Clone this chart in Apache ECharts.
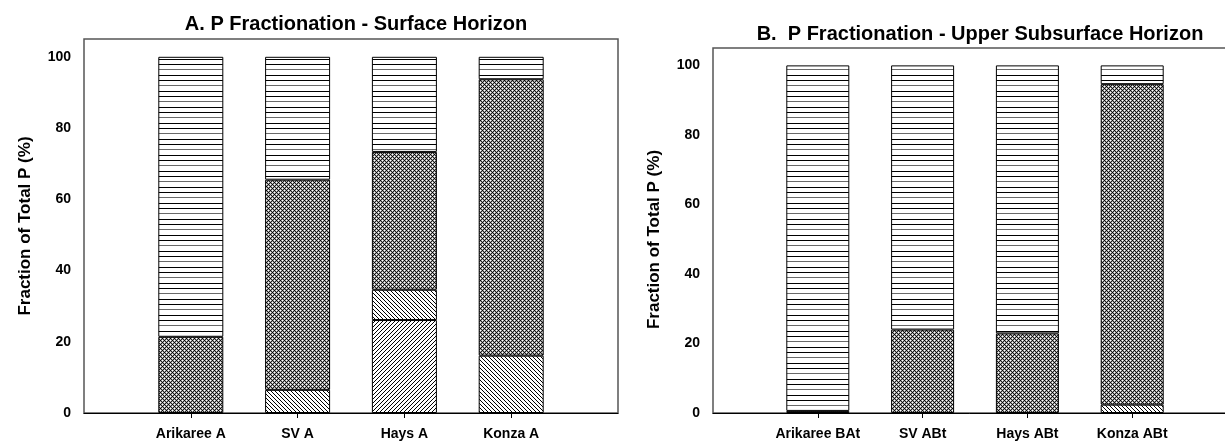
<!DOCTYPE html>
<html>
<head>
<meta charset="utf-8">
<script src="https://cdn.jsdelivr.net/npm/echarts@6/dist/echarts.min.js"></script>
<style>
  html, body { margin: 0; padding: 0; background: #fff; }
  #chart { width: 1225px; height: 442px; }
</style>
</head>
<body>
<div id="chart"></div>
<script>
// Sites (x categories) for each horizon
const surfaceSites = ['Arikaree A', 'SV A', 'Hays A', 'Konza A'];
const subsurfaceSites = ['Arikaree BAt', 'SV ABt', 'Hays ABt', 'Konza ABt'];
const yTickValues = [0, 20, 40, 60, 80, 100];

// Fraction of total P (%), listed from the bottom of each stack to the top
const surfaceFracA = [0, 0, 26.1, 0];
const surfaceFracB = [0, 6.5, 8.5, 16.1];
const surfaceFracC = [21.4, 59.0, 38.7, 77.6];
const surfaceFracD = [78.6, 34.5, 26.7, 6.3];

const subsurfaceFracA = [0, 0, 0, 0];
const subsurfaceFracB = [0, 0, 0, 2.4];
const subsurfaceFracC = [0.6, 24.0, 22.9, 92.2];
const subsurfaceFracD = [99.4, 76.0, 77.1, 5.4];

const FONT = '"Liberation Sans", Arial, Helvetica, sans-serif';

// ---- fill patterns (monochrome hatches) ----
function tile(w, h, paint) {
  const c = document.createElement('canvas');
  c.width = w; c.height = h;
  const g = c.getContext('2d');
  g.fillStyle = '#fff';
  g.fillRect(0, 0, w, h);
  paint(g);
  return { image: c, repeat: 'repeat' };
}
function px(g, x, y, col) { g.fillStyle = col; g.fillRect(x, y, 1, 1); }

const hatchHorizontal = tile(4, 16, g => {
  g.fillStyle = '#000'; g.fillRect(0, 0, 4, 1);
  g.fillStyle = '#6a6a6a'; g.fillRect(0, 5, 4, 1);
  g.fillStyle = '#000'; g.fillRect(0, 11, 4, 1);
});
const hatchBack = tile(4, 4, g => { for (let i = 0; i < 4; i++) px(g, i, i, '#000'); });
const hatchFwd = tile(4, 4, g => { for (let i = 0; i < 4; i++) px(g, 3 - i, i, '#000'); });
const hatchCross = tile(4, 4, g => {
  for (let y = 0; y < 4; y++) {
    for (let x = 0; x < 4; x++) {
      const onA = (x + y) % 4 === 0, onB = (x - y + 8) % 4 === 0;
      let col = '#a8a8a8';
      if (onA && onB) col = '#000';
      else if (onA || onB) col = '#222';
      else if ((x + y) % 2 === 0) col = '#fff';
      px(g, x, y, col);
    }
  }
});

// ---- axes ----
// Blank slots at both ends give the one-band margin on each side of the bars.
function xAxisFor(gridIndex, names) {
  return {
    gridIndex, type: 'category', boundaryGap: false,
    data: ['', ...names, ''],
    splitLine: { show: false },
    axisLine: { onZero: false, lineStyle: { color: '#000', width: 1 } },
    axisTick: {
      interval: (i) => i > 0 && i <= names.length,
      length: 5, lineStyle: { color: '#000' }
    },
    axisLabel: {
      interval: 0,
      color: '#000', fontFamily: FONT, fontWeight: 'bold', fontSize: 14, margin: 14
    }
  };
}
function yAxisFor(gridIndex, gap, pad) {
  return {
    gridIndex, type: 'value', min: 0, max: 105, interval: 20,
    splitLine: { show: false },
    axisLine: { lineStyle: { color: '#000', width: 1 } },
    axisTick: { customValues: yTickValues, length: 5, lineStyle: { color: '#000' } },
    axisLabel: {
      customValues: yTickValues,
      color: '#000', fontFamily: FONT, fontWeight: 'bold', fontSize: 14, margin: 13
    },
    name: 'Fraction of Total P (%)',
    nameLocation: 'middle',
    nameGap: gap,
    nameTextStyle: {
      color: '#000', fontFamily: FONT, fontWeight: 'bold', fontSize: 17,
      padding: pad
    }
  };
}

// ---- stacked bar series ----
function barSeries(values, pattern, axisIndex, stack, width) {
  return {
    type: 'bar',
    xAxisIndex: axisIndex, yAxisIndex: axisIndex,
    stack, barWidth: width,
    data: ['-', ...values.map(v => (v === 0 ? '-' : v)), '-'],
    itemStyle: { color: pattern, borderColor: '#000', borderWidth: 1 },
    emphasis: { disabled: true }
  };
}

const chart = echarts.init(document.getElementById('chart'), null, { renderer: 'canvas' });
chart.setOption({
  animation: false,
  backgroundColor: '#fff',
  title: [
    {
      text: 'A. P Fractionation - Surface Horizon',
      left: 351, top: 9, textAlign: 'center',
      textStyle: { color: '#000', fontFamily: FONT, fontWeight: 'bold', fontSize: 20 }
    },
    {
      text: 'B.  P Fractionation - Upper Subsurface Horizon',
      left: 975, top: 19, textAlign: 'center',
      textStyle: { color: '#000', fontFamily: FONT, fontWeight: 'bold', fontSize: 20 }
    }
  ],
  grid: [
    { left: 84, top: 39, width: 534, height: 374, outerBoundsMode: 'none', show: true, borderColor: '#555', borderWidth: 1.5, backgroundColor: 'transparent' },
    { left: 713, top: 48, width: 524, height: 365, outerBoundsMode: 'none', show: true, borderColor: '#555', borderWidth: 1.5, backgroundColor: 'transparent' }
  ],
  xAxis: [xAxisFor(0, surfaceSites), xAxisFor(1, subsurfaceSites)],
  yAxis: [yAxisFor(0, 50, [0, 0, 0, 0]), yAxisFor(1, 50, [0, 18, 0, 0])],
  series: [
    barSeries(surfaceFracA, hatchFwd, 0, 'surface', 65),
    barSeries(surfaceFracB, hatchBack, 0, 'surface', 65),
    barSeries(surfaceFracC, hatchCross, 0, 'surface', 65),
    barSeries(surfaceFracD, hatchHorizontal, 0, 'surface', 65),
    barSeries(subsurfaceFracA, hatchFwd, 1, 'subsurface', 63),
    barSeries(subsurfaceFracB, hatchBack, 1, 'subsurface', 63),
    barSeries(subsurfaceFracC, hatchCross, 1, 'subsurface', 63),
    barSeries(subsurfaceFracD, hatchHorizontal, 1, 'subsurface', 63)
  ]
});
</script>
</body>
</html>
